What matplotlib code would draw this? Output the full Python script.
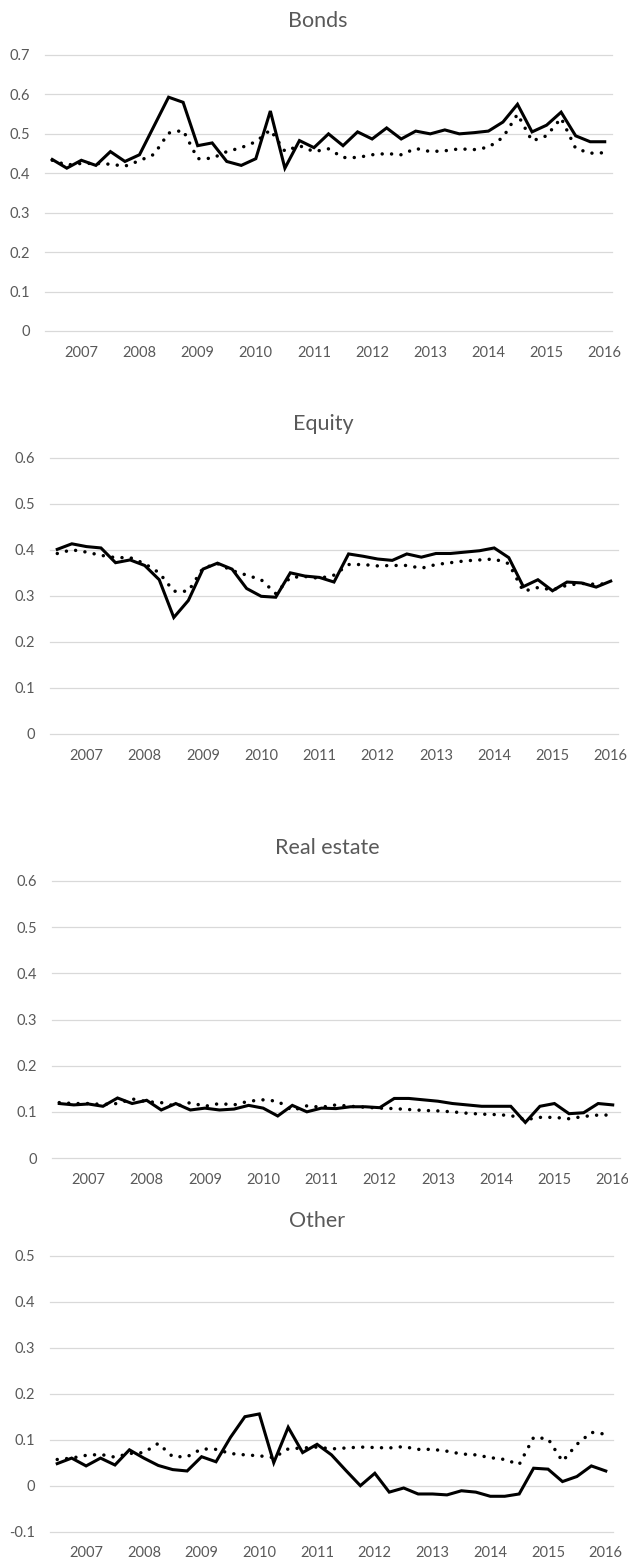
import matplotlib
matplotlib.use("Agg")
import matplotlib.pyplot as plt
import numpy as np

plt.rcParams['font.family'] = ['Lato', 'DejaVu Sans']

# quarterly observations, labels put on every 4th quarter
years = ['2007', '2008', '2009', '2010', '2011', '2012', '2013', '2014', '2015', '2016']

bonds_solid = [0.435, 0.413, 0.433, 0.420, 0.455, 0.430, 0.447, 0.520, 0.593, 0.580,
               0.470, 0.477, 0.430, 0.420, 0.437, 0.558, 0.413, 0.483, 0.465, 0.500,
               0.470, 0.505, 0.487, 0.515, 0.487, 0.507, 0.500, 0.510, 0.500, 0.503,
               0.507, 0.530, 0.575, 0.505, 0.522, 0.555, 0.495, 0.480, 0.480]
bonds_dot = [0.433, 0.421, 0.425, 0.425, 0.423, 0.418, 0.432, 0.448, 0.502, 0.509,
             0.437, 0.438, 0.455, 0.465, 0.480, 0.510, 0.456, 0.470, 0.455, 0.462,
             0.440, 0.440, 0.447, 0.450, 0.447, 0.463, 0.455, 0.457, 0.462, 0.460,
             0.466, 0.491, 0.550, 0.482, 0.495, 0.540, 0.463, 0.451, 0.452]

equity_solid = [0.401, 0.413, 0.407, 0.404, 0.372, 0.378, 0.366, 0.335, 0.253, 0.290,
                0.358, 0.371, 0.358, 0.316, 0.299, 0.297, 0.350, 0.343, 0.340, 0.330,
                0.391, 0.386, 0.380, 0.377, 0.391, 0.384, 0.392, 0.392, 0.395, 0.398,
                0.404, 0.383, 0.320, 0.335, 0.311, 0.330, 0.328, 0.319, 0.332]
equity_dot = [0.392, 0.400, 0.395, 0.388, 0.383, 0.383, 0.370, 0.350, 0.310, 0.310,
              0.360, 0.370, 0.355, 0.345, 0.335, 0.305, 0.340, 0.342, 0.338, 0.345,
              0.368, 0.368, 0.365, 0.366, 0.366, 0.360, 0.368, 0.372, 0.376, 0.378,
              0.380, 0.370, 0.310, 0.318, 0.313, 0.323, 0.327, 0.325, 0.327]

realestate_solid = [0.118, 0.115, 0.117, 0.112, 0.130, 0.118, 0.125, 0.104, 0.118, 0.104,
                    0.108, 0.104, 0.106, 0.114, 0.108, 0.091, 0.114, 0.100, 0.108, 0.107,
                    0.111, 0.111, 0.109, 0.129, 0.129, 0.126, 0.123, 0.118, 0.115, 0.112,
                    0.112, 0.112, 0.077, 0.112, 0.118, 0.096, 0.098, 0.118, 0.115]
realestate_dot = [0.120, 0.118, 0.118, 0.116, 0.118, 0.128, 0.122, 0.120, 0.112, 0.120,
                  0.112, 0.118, 0.115, 0.123, 0.126, 0.123, 0.103, 0.113, 0.110, 0.115,
                  0.112, 0.110, 0.108, 0.107, 0.105, 0.103, 0.102, 0.100, 0.097, 0.095,
                  0.094, 0.092, 0.083, 0.088, 0.088, 0.085, 0.090, 0.093, 0.093]

other_solid = [0.048, 0.060, 0.043, 0.060, 0.045, 0.078, 0.060, 0.044, 0.035, 0.032,
               0.063, 0.052, 0.105, 0.150, 0.156, 0.050, 0.127, 0.072, 0.090, 0.067,
               0.033, 0.000, 0.027, -0.014, -0.005, -0.018, -0.018, -0.020, -0.011, -0.014,
               -0.023, -0.023, -0.018, 0.038, 0.036, 0.009, 0.020, 0.043, 0.032]
other_dot = [0.057, 0.060, 0.066, 0.068, 0.062, 0.070, 0.072, 0.092, 0.063, 0.063,
             0.080, 0.079, 0.070, 0.067, 0.065, 0.061, 0.080, 0.082, 0.084, 0.080,
             0.082, 0.084, 0.083, 0.082, 0.085, 0.079, 0.079, 0.075, 0.069, 0.067,
             0.061, 0.057, 0.046, 0.105, 0.102, 0.053, 0.090, 0.116, 0.112]

TXT = '#595959'
GRID = '#d9d9d9'
W, H = 628, 1563

fig = plt.figure(figsize=(W / 100, H / 100), dpi=100)

# (title, solid, dotted, ymin, ymax, axes box in px: left, right, top, bottom, title x, title baseline)
panels = [
    ('Bonds', bonds_solid, bonds_dot, 0.0, 0.7, (45, 612, 55, 331), (318, 27)),
    ('Equity', equity_solid, equity_dot, 0.0, 0.6, (50, 618, 457.7, 734), (323, 430)),
    ('Real estate', realestate_solid, realestate_dot, 0.0, 0.6, (52, 620, 881, 1158), (327, 854)),
    ('Other', other_solid, other_dot, -0.1, 0.5, (50, 613, 1255.7, 1531.7), (317, 1227)),
]


def fmt(v):
    if abs(v) < 1e-9:
        return '0'
    return '%.1f' % v


for title, solid, dot, lo, hi, box, tpos in panels:
    l, r, t, b = box
    ax = fig.add_axes([l / W, 1 - b / H, (r - l) / W, (b - t) / H])
    x = np.arange(len(solid))
    ax.plot(x, dot, color='black', lw=2.5, linestyle=(0, (0.01, 2.7)),
            dash_capstyle='round', zorder=3)
    ax.plot(x, solid, color='black', lw=2.2, solid_joinstyle='miter', zorder=4)

    ax.set_xlim(-0.5, len(solid) - 0.5)
    ax.set_ylim(lo, hi)
    yt = np.round(np.arange(lo, hi + 0.001, 0.1), 1)
    ax.set_yticks(yt)
    ax.set_yticklabels([fmt(v) for v in yt])
    ax.set_xticks(np.arange(2, len(solid), 4))
    ax.set_xticklabels(years)

    for s in ax.spines.values():
        s.set_visible(False)
    ax.yaxis.grid(True, color=GRID, lw=0.9)
    ax.set_axisbelow(True)
    ax.tick_params(axis='both', length=0, labelcolor=TXT, labelsize=10.5)
    ax.tick_params(axis='y', pad=10.5)
    ax.tick_params(axis='x', pad=10.5)
    for gl in ax.get_ygridlines():
        gl.set_clip_on(False)

    fig.text(tpos[0] / W, 1 - tpos[1] / H, title, ha='center', va='baseline',
             fontsize=15.5, color=TXT)

fig.savefig('out.png', dpi=100, facecolor='white')
